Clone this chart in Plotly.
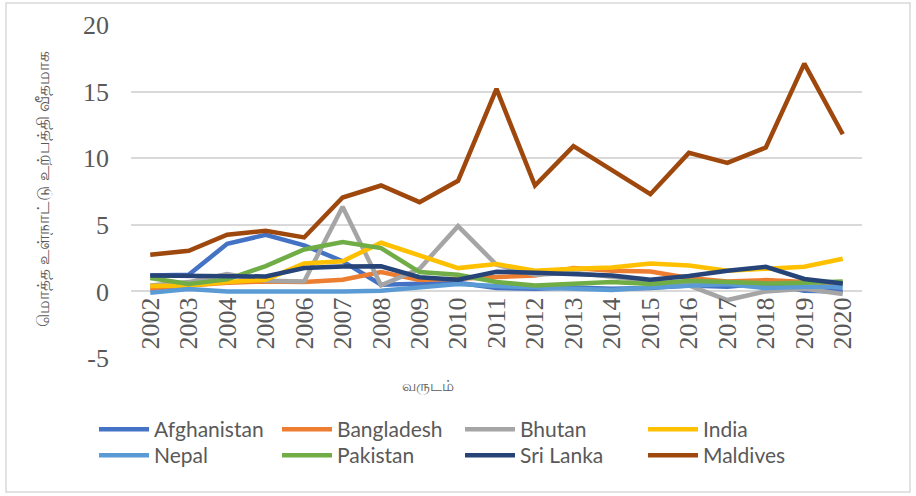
import plotly.graph_objects as go

years = [str(y) for y in range(2002, 2021)]

afghanistan = [1.2, 1.25, 3.57, 4.25, 3.45, 2.27, 0.5, 0.57, 0.65, 0.25, 0.2, 0.3, 0.2, 0.25, 0.45, 0.35, 0.6, 0.05, 0.0]
bangladesh = [0.15, 0.45, 0.65, 0.75, 0.7, 0.88, 1.45, 0.85, 0.95, 1.07, 1.2, 1.75, 1.55, 1.5, 1.0, 0.75, 0.85, 0.7, 0.6]
bhutan = [0.45, 0.7, 1.3, 0.8, 0.75, 6.35, 0.45, 1.7, 4.9, 2.0, 1.25, 1.4, 1.1, 0.8, 0.45, -0.65, 0.0, 0.2, -0.2]
india = [0.4, 0.45, 0.7, 0.88, 2.1, 2.27, 3.65, 2.7, 1.75, 2.05, 1.55, 1.7, 1.8, 2.1, 1.95, 1.55, 1.7, 1.85, 2.45]
nepal = [-0.1, 0.18, 0.0, 0.0, -0.05, 0.0, 0.05, 0.3, 0.55, 0.4, 0.3, 0.2, 0.1, 0.3, 0.45, 0.55, 0.25, 0.35, 0.35]
pakistan = [1.0, 0.55, 0.9, 1.9, 3.15, 3.7, 3.25, 1.45, 1.25, 0.7, 0.45, 0.55, 0.7, 0.55, 0.8, 0.7, 0.6, 0.65, 0.75]
sri_lanka = [1.2, 1.2, 1.12, 1.12, 1.75, 1.87, 1.88, 1.07, 0.88, 1.48, 1.4, 1.32, 1.2, 0.88, 1.15, 1.55, 1.85, 0.93, 0.6]
maldives = [2.75, 3.05, 4.25, 4.55, 4.05, 7.05, 7.95, 6.7, 8.3, 15.2, 7.95, 10.9, 9.1, 7.3, 10.4, 9.65, 10.8, 17.1, 11.8]

y_ticks = [-5, 0, 5, 10, 15, 20]
y_tick_labels = ["-5", "0", "5", "10", "15", "20"]

series = [
    ("Afghanistan", afghanistan, "#4472C4", "legend"),
    ("Bangladesh", bangladesh, "#ED7D31", "legend"),
    ("Bhutan", bhutan, "#A5A5A5", "legend"),
    ("India", india, "#FFC000", "legend"),
    ("Nepal", nepal, "#5B9BD5", "legend2"),
    ("Pakistan", pakistan, "#70AD47", "legend2"),
    ("Sri Lanka", sri_lanka, "#264478", "legend2"),
    ("Maldives", maldives, "#9E480E", "legend2"),
]

y_title = "மொத்த உள்நாட்டு உற்பத்தி வீதமாக"
x_title = "வருடம்"

fig = go.Figure()
for name, vals, col, lg in series:
    fig.add_trace(go.Scatter(x=years, y=vals, name=name, mode="lines", legend=lg,
                             line=dict(color=col, width=4.5)))

W, H = 916, 496
ml, mr, mt, mb = 131, 54, 25, 138
pw, ph = W - ml - mr, H - mt - mb

def px_x(x):
    return (x - ml) / pw

def px_y(y):
    return (H - mb - y) / ph

legend_common = dict(orientation="h", xanchor="left", yanchor="top",
                     font=dict(family="Lato", size=21, color="#595959"),
                     entrywidth=118, entrywidthmode="pixels", itemwidth=50,
                     tracegroupgap=0, bgcolor="rgba(0,0,0,0)")

fig.update_layout(
    width=W, height=H,
    margin=dict(l=ml, r=mr, t=mt, b=mb),
    paper_bgcolor="white", plot_bgcolor="white",
    showlegend=True,
    legend=dict(x=px_x(94), y=px_y(409), **legend_common),
    legend2=dict(x=px_x(94), y=px_y(435), **legend_common),
    xaxis=dict(type="category", range=[-0.5, 18.5], anchor="free", position=0.2,
               showgrid=False, showline=False, ticks="", tickangle=-90,
               tickfont=dict(family="Liberation Serif", size=26, color="#595959"),
               zeroline=False),
    yaxis=dict(range=[-5, 20], tickvals=y_ticks, ticktext=y_tick_labels,
               showgrid=True, gridcolor="#D9D9D9",
               gridwidth=1.5, zeroline=True, zerolinecolor="#D9D9D9", zerolinewidth=1.5,
               showline=False, ticks="", ticklabelstandoff=21,
               tickfont=dict(family="Liberation Serif", size=26, color="#595959")),
    annotations=[
        dict(text=y_title, xref="paper", yref="paper", x=px_x(42), y=px_y(189),
             textangle=-90, showarrow=False, xanchor="center", yanchor="middle",
             font=dict(family="Noto Sans", size=17, color="#595959")),
        dict(text=x_title, xref="paper", yref="paper", x=px_x(428), y=px_y(385),
             showarrow=False, xanchor="center", yanchor="middle",
             font=dict(family="Noto Sans", size=15, color="#595959")),
    ],
    shapes=[dict(type="rect", xref="paper", yref="paper",
                 x0=px_x(6), x1=px_x(910), y0=px_y(492), y1=px_y(3),
                 line=dict(color="#D9D9D9", width=1.5), layer="below")],
)

fig.write_html("out.html", config={"displayModeBar": False},
               post_script="document.body.style.margin='0px';")
